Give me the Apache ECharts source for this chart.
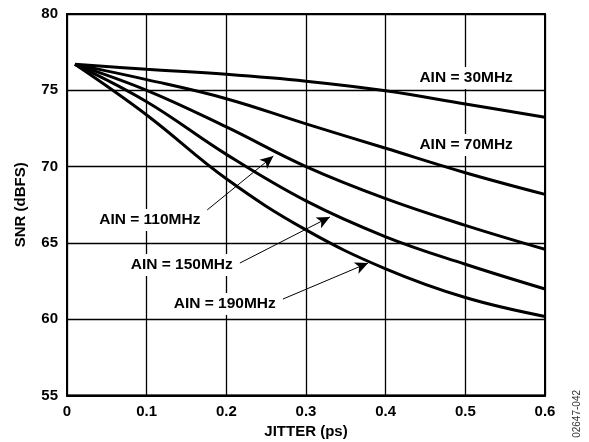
<!DOCTYPE html>
<html>
<head>
    <meta charset="utf-8">
    <title>SNR vs Jitter</title>
    <script src="https://cdn.jsdelivr.net/npm/echarts@6/dist/echarts.min.js"></script>
    <style>
        html, body { margin: 0; padding: 0; background: #fff; }
        #chart { width: 589px; height: 442px; }
    </style>
</head>
<body>
<div id="chart"></div>
<script type="text/javascript">
    // jitter (ps)
    var jitter = [0.01, 0.1, 0.2, 0.3, 0.4, 0.5, 0.6];
    // SNR (dBFS) per input frequency
    var snr30  = [76.7, 76.38, 76.05, 75.6, 74.97, 74.1, 73.23];
    var snr70  = [76.7, 75.7, 74.45, 72.8, 71.2, 69.6, 68.18];
    var snr110 = [76.7, 75.0, 72.6, 70.0, 67.9, 66.15, 64.58];
    var snr150 = [76.7, 74.25, 70.8, 67.75, 65.4, 63.6, 61.98];
    var snr190 = [76.7, 73.38, 69.2, 65.85, 63.3, 61.42, 60.18];

    // label text and where it sits (data coords)
    var labelText = ['AIN = 30MHz', 'AIN = 70MHz', 'AIN = 110MHz', 'AIN = 150MHz', 'AIN = 190MHz'];
    var labelPos  = [[0.501, 75.81], [0.501, 71.42], [0.104, 66.5], [0.144, 63.55], [0.198, 61.0]];
    // arrows: [from, to]
    var arrows = [
        [[0.176, 67.16], [0.259, 70.69]],
        [[0.217, 63.68], [0.330, 66.70]],
        [[0.271, 61.32], [0.378, 63.68]]
    ];

    var font = "'Liberation Sans', Arial, sans-serif";

    function pairs(ys) {
        var out = [];
        for (var i = 0; i < jitter.length; i++) out.push([jitter[i], ys[i]]);
        return out;
    }

    function curve(name, ys) {
        return {
            name: name,
            type: 'line',
            smooth: 0.4,
            symbol: 'none',
            lineStyle: { color: '#000', width: 3 },
            data: pairs(ys)
        };
    }

    var series = [
        curve('30', snr30),
        curve('70', snr70),
        curve('110', snr110),
        curve('150', snr150),
        curve('190', snr190)
    ];

    var points = [];
    for (var i = 0; i < labelText.length; i++) {
        points.push({
            coord: labelPos[i],
            symbolSize: 0,
            label: {
                show: true,
                position: 'inside',
                formatter: labelText[i],
                color: '#000',
                fontFamily: font,
                fontWeight: 'bold',
                fontSize: 15.5,
                backgroundColor: '#fff',
                padding: [3, 4]
            }
        });
    }
    var lines = [];
    for (var j = 0; j < arrows.length; j++) {
        lines.push([{ coord: arrows[j][0] }, { coord: arrows[j][1] }]);
    }
    series[0].markPoint = { silent: true, symbol: 'rect', data: points };
    series[0].markLine = {
        silent: true,
        symbol: ['none', 'arrow'],
        symbolSize: [9, 13],
        lineStyle: { color: '#000', width: 1, type: 'solid' },
        label: { show: false },
        data: lines
    };

    var chart = echarts.init(document.getElementById('chart'));
    chart.setOption({
        animation: false,
        backgroundColor: '#fff',
        grid: {
            left: 67, right: 44, top: 14, bottom: 46.5,
            show: true, borderColor: '#000', borderWidth: 2,
            outerBoundsMode: 'none'
        },
        xAxis: {
            type: 'value',
            min: 0, max: 0.6, interval: 0.1,
            name: 'JITTER (ps)',
            nameLocation: 'middle',
            nameGap: 27,
            nameTextStyle: { color: '#000', fontFamily: font, fontWeight: 'bold', fontSize: 15 },
            axisLine: { show: true, lineStyle: { color: '#000', width: 2 } },
            axisTick: { show: false },
            axisLabel: {
                color: '#000', fontFamily: font, fontWeight: 'bold', fontSize: 15, margin: 9,
                formatter: function (v) { return v === 0 ? '0' : v.toFixed(1); }
            },
            splitLine: { show: true, lineStyle: { color: '#000', width: 1.3 } }
        },
        yAxis: {
            type: 'value',
            min: 55, max: 80, interval: 5,
            name: 'SNR (dBFS)',
            nameLocation: 'middle',
            nameRotate: 90,
            nameGap: 39,
            nameTextStyle: { color: '#000', fontFamily: font, fontWeight: 'bold', fontSize: 15 },
            axisLine: { show: true, lineStyle: { color: '#000', width: 2 } },
            axisTick: { show: false },
            axisLabel: { color: '#000', fontFamily: font, fontWeight: 'bold', fontSize: 15, margin: 9 },
            splitLine: { show: true, lineStyle: { color: '#000', width: 1.3 } }
        },
        graphic: [{
            type: 'text',
            right: 7,
            top: 390,
            rotation: Math.PI / 2,
            style: { text: '02647-042', fill: '#333', font: '10px ' + font }
        }],
        series: series
    });
</script>
</body>
</html>
